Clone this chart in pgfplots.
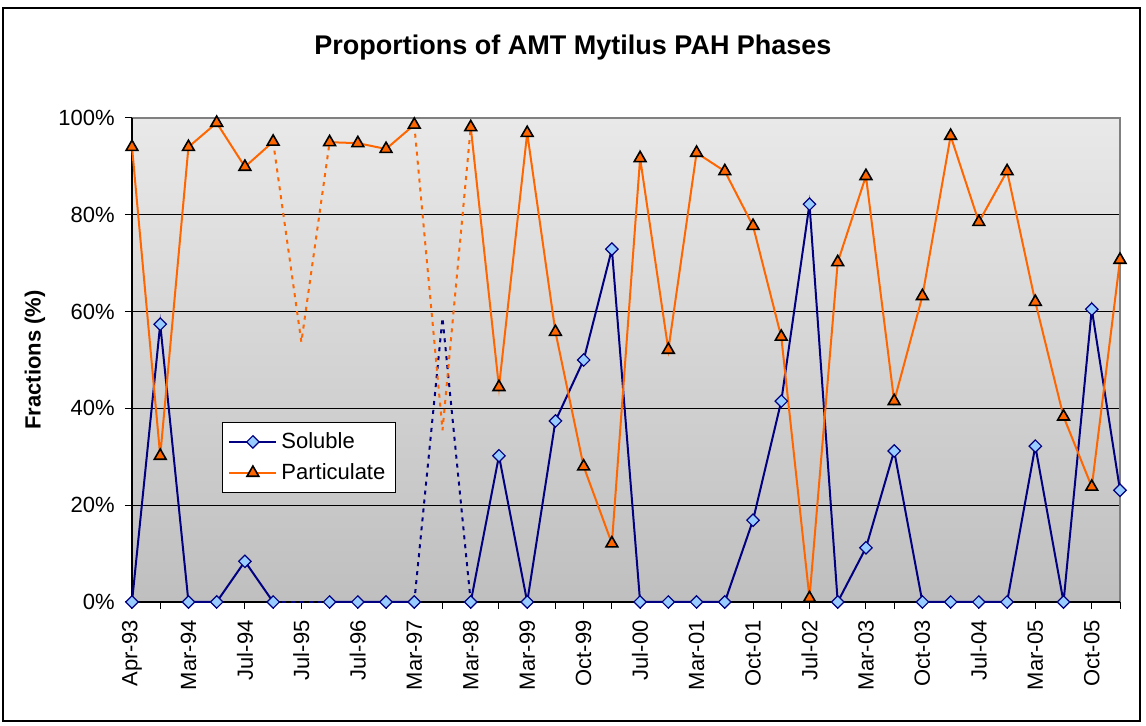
\documentclass[border=0pt]{standalone}
\usepackage{pgfplots}
\pgfplotsset{compat=1.18}
\usepackage{pgfplotstable}
\usepackage{fontspec}
\setmainfont{Liberation Sans}

\definecolor{navy}{RGB}{0,0,128}
\definecolor{orng}{RGB}{255,102,0}
\definecolor{lblue}{RGB}{153,204,255}
\definecolor{bgtop}{RGB}{233,233,233}
\definecolor{bgbot}{RGB}{191,191,191}

\pgfplotstableread{
i S P
0 0 94.0
1 57.4 30.2
2 0 94.0
3 0 99.0
4 8.4 89.9
5 0 95.1
6 nan nan
7 0 95.0
8 0 94.8
9 0 93.6
10 0 98.6
11 nan nan
12 0 98.1
13 30.2 44.4
14 0 96.9
15 37.4 55.8
16 50.0 28.0
17 72.9 12.1
18 0 91.7
19 0 52.1
20 0 92.8
21 0 89.0
22 16.9 77.7
23 41.5 54.8
24 82.2 0.8
25 0 70.2
26 11.2 88.0
27 31.2 41.5
28 0 63.2
29 0 96.3
30 0 78.5
31 0 89.0
32 32.2 62.0
33 0 38.3
34 60.5 23.8
35 23.1 70.7
}\data

\pgfplotstableread{
i S P
5 0 95.1
6 0 53.7
7 0 95.0
}\gapA

\pgfplotstableread{
i S P
10 0 98.6
11 58.7 35.5
12 0 98.1
}\gapB

\begin{document}
\begin{tikzpicture}[x=1pt,y=1pt]
\useasboundingbox (-66,-62) rectangle (507,301);
\draw[black, line width=0.6pt] (-64.5,-59.5) rectangle (504,297);
\begin{axis}[
  at={(0,0)}, anchor=south west,
  scale only axis, width=494pt, height=242pt,
  xmin=0, xmax=35, ymin=0, ymax=100,
  clip=false,
  unbounded coords=jump,
  xtick={0,...,35},
  xticklabels={{Apr-93},{},{Mar-94},{},{Jul-94},{},{Jul-95},{},{Jul-96},{},{Mar-97},{},{Mar-98},{},{Mar-99},{},{Oct-99},{},{Jul-00},{},{Mar-01},{},{Oct-01},{},{Jul-02},{},{Mar-03},{},{Oct-03},{},{Jul-04},{},{Mar-05},{},{Oct-05},{}},
  ytick={0,20,...,100},
  yticklabels={0\%,20\%,40\%,60\%,80\%,100\%},
  ymajorgrids,
  grid style={black, line width=0.5pt},
  tick align=outside, tick pos=left,
  major tick length=3.5pt,
  tick style={black, line width=0.5pt},
  axis line style={draw=none},
  axis background/.style={top color=bgtop, bottom color=bgbot},
  xticklabel style={rotate=90, anchor=east, inner sep=0pt, font=\fontsize{11}{12}\selectfont},
  yticklabel style={anchor=east, inner sep=0pt, font=\fontsize{11}{12}\selectfont},
  xticklabel shift=5.5pt,
  yticklabel shift=5pt,
  legend style={at={(rel axis cs:0.091,0.372)}, anchor=north west, draw=black, fill=white,
    line width=0.5pt, font=\fontsize{11}{12}\selectfont, inner xsep=3pt, inner ysep=3pt,
    row sep=2pt},
  legend cell align=left,
  legend image code/.code={\draw[mark repeat=2,mark phase=2] plot coordinates {(0pt,0pt) (11.75pt,0pt) (23.5pt,0pt)};},
]
\draw[gray, line width=0.6pt] (rel axis cs:0,1) -- (rel axis cs:1,1) -- (rel axis cs:1,0);
\draw[black, line width=0.6pt] (rel axis cs:0,1) -- (rel axis cs:0,0) -- (rel axis cs:1,0);
\addplot[navy, line width=1pt, dash pattern=on 2pt off 2.5pt, forget plot] table[x=i,y=S] {\gapA};
\addplot[navy, line width=1pt, dash pattern=on 2pt off 2.5pt, forget plot] table[x=i,y=S] {\gapB};
\addplot[orng, line width=1pt, dash pattern=on 2pt off 2.5pt, forget plot] table[x=i,y=P] {\gapA};
\addplot[orng, line width=1pt, dash pattern=on 2pt off 2.5pt, forget plot] table[x=i,y=P] {\gapB};
\addplot[navy, line width=1pt, mark=square*, mark size=2.2pt,
  mark options={rotate=45, fill=lblue, draw=navy, line width=0.6pt, solid}] table[x=i,y=S] {\data};
\addlegendentry{Soluble}
\addplot[orng, line width=1pt, mark=triangle*, mark size=3.4pt,
  mark options={fill=orng, draw=black, line width=0.8pt, solid}] table[x=i,y=P] {\data};
\addlegendentry{Particulate}
\end{axis}
\node[font=\bfseries\fontsize{13.5}{15}\selectfont] at (220.5,277) {Proportions of AMT Mytilus PAH Phases};
\node[rotate=90, font=\bfseries\fontsize{11}{12}\selectfont] at (-48.5,121) {Fractions (\%)};
\end{tikzpicture}
\end{document}
